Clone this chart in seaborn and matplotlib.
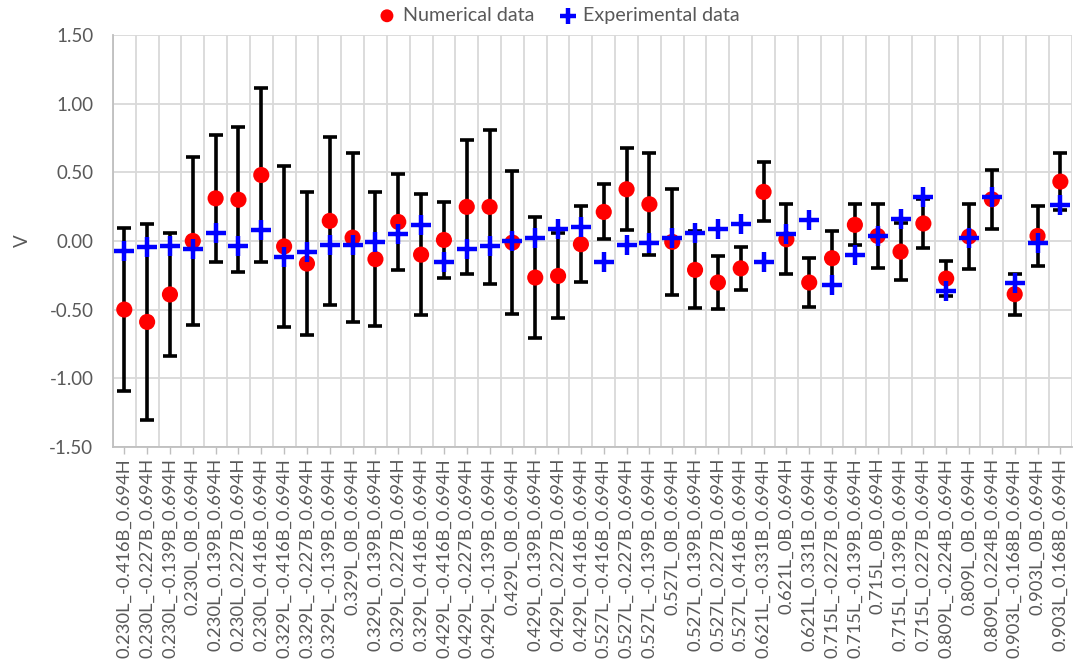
import numpy as np
import pandas as pd
import matplotlib
matplotlib.use("Agg")
import matplotlib.pyplot as plt
import seaborn as sns
from matplotlib.ticker import FixedLocator

categories = [
    "0.230L_-0.416B_0.694H", "0.230L_-0.227B_0.694H", "0.230L_-0.139B_0.694H",
    "0.230L_0B_0.694H", "0.230L_0.139B_0.694H", "0.230L_0.227B_0.694H",
    "0.230L_0.416B_0.694H", "0.329L_-0.416B_0.694H", "0.329L_-0.227B_0.694H",
    "0.329L_-0.139B_0.694H", "0.329L_0B_0.694H", "0.329L_0.139B_0.694H",
    "0.329L_0.227B_0.694H", "0.329L_0.416B_0.694H", "0.429L_-0.416B_0.694H",
    "0.429L_-0.227B_0.694H", "0.429L_-0.139B_0.694H", "0.429L_0B_0.694H",
    "0.429L_0.139B_0.694H", "0.429L_0.227B_0.694H", "0.429L_0.416B_0.694H",
    "0.527L_-0.416B_0.694H", "0.527L_-0.227B_0.694H", "0.527L_-0.139B_0.694H",
    "0.527L_0B_0.694H", "0.527L_0.139B_0.694H", "0.527L_0.227B_0.694H",
    "0.527L_0.416B_0.694H", "0.621L_-0.331B_0.694H", "0.621L_0B_0.694H",
    "0.621L_0.331B_0.694H", "0.715L_-0.227B_0.694H", "0.715L_-0.139B_0.694H",
    "0.715L_0B_0.694H", "0.715L_0.139B_0.694H", "0.715L_0.227B_0.694H",
    "0.809L_-0.224B_0.694H", "0.809L_0B_0.694H", "0.809L_0.224B_0.694H",
    "0.903L_-0.168B_0.694H", "0.903L_0B_0.694H", "0.903L_0.168B_0.694H",
]

numerical = [
    -0.50, -0.59, -0.39, 0.00, 0.31, 0.30, 0.48, -0.04, -0.165, 0.146,
    0.024, -0.133, 0.138, -0.10, 0.007, 0.248, 0.248, -0.012, -0.267, -0.255,
    -0.024, 0.211, 0.376, 0.267, -0.007, -0.211, -0.303, -0.20, 0.357, 0.012,
    -0.303, -0.126, 0.117, 0.036, -0.078, 0.127, -0.274, 0.032, 0.303, -0.388,
    0.036, 0.432,
]

numerical_err = [
    0.595, 0.715, 0.445, 0.61, 0.46, 0.53, 0.63, 0.585, 0.52, 0.61,
    0.615, 0.49, 0.35, 0.44, 0.28, 0.49, 0.56, 0.52, 0.44, 0.31,
    0.275, 0.20, 0.30, 0.37, 0.385, 0.28, 0.19, 0.155, 0.215, 0.255,
    0.18, 0.195, 0.15, 0.235, 0.205, 0.18, 0.125, 0.235, 0.215, 0.15,
    0.22, 0.205,
]

experimental = [
    -0.073, -0.046, -0.036, -0.061, 0.056, -0.036, 0.078, -0.114, -0.078, -0.029,
    -0.029, -0.007, 0.049, 0.114, -0.153, -0.061, -0.036, 0.0, 0.019, 0.085,
    0.104, -0.15, -0.029, -0.012, 0.019, 0.056, 0.085, 0.121, -0.153, 0.049,
    0.15, -0.32, -0.10, 0.036, 0.163, 0.32, -0.364, 0.024, 0.32, -0.303,
    -0.012, 0.26,
]

y_ticks = [-1.5, -1.0, -0.5, 0.0, 0.5, 1.0, 1.5]

df = pd.DataFrame({
    "case": categories,
    "Numerical data": numerical,
    "err": numerical_err,
    "Experimental data": experimental,
})

sns.set_theme(style="white")
plt.rcParams["font.family"] = ["Lato", "DejaVu Sans"]

fig = plt.figure(figsize=(10.75, 6.72), dpi=100)
ax = fig.add_axes([0.105, 0.335, 0.892, 0.613])

grey_text = "#595959"
grid_c = "#d9d9d9"

ax.errorbar(df["case"], df["Numerical data"], yerr=df["err"], fmt="none",
            ecolor="black", elinewidth=2.6, capsize=5, capthick=2.6, zorder=3)
sns.scatterplot(data=df, x="case", y="Numerical data", ax=ax, color="#ff0000",
                marker="o", s=135, edgecolor="none", zorder=4,
                label="Numerical data")
sns.scatterplot(data=df, x="case", y="Experimental data", ax=ax, color="#0000ff",
                marker="+", s=200, linewidth=3.2, zorder=5,
                label="Experimental data")

ax.set_xlim(-0.5, len(categories) - 0.5)
ax.set_ylim(-1.5, 1.5)
ax.set_yticks(y_ticks)
ax.set_yticklabels([f"{v:.2f}" for v in y_ticks])
ax.set_xticks(range(len(categories)))
ax.set_xticklabels(categories, rotation=90)
ax.xaxis.set_minor_locator(FixedLocator(np.arange(-0.5, len(categories), 1.0)))

ax.grid(True, which="major", axis="y", color=grid_c, linewidth=1.3)
ax.grid(True, which="minor", axis="x", color=grid_c, linewidth=1.3)
ax.grid(False, which="major", axis="x")
ax.set_axisbelow(True)

ax.tick_params(axis="x", which="major", bottom=True, length=5, width=1,
               color="#bfbfbf", labelsize=13.2, labelcolor=grey_text, pad=3)
ax.tick_params(axis="x", which="minor", bottom=False, length=0)
ax.tick_params(axis="y", left=False, labelsize=13.5, labelcolor=grey_text, pad=8)

for side in ["top", "right"]:
    ax.spines[side].set_visible(False)
for side in ["left", "bottom"]:
    ax.spines[side].set_color("#bfbfbf")
    ax.spines[side].set_linewidth(1.3)

ax.set_xlabel("")
ax.set_ylabel("V", color=grey_text, fontsize=13.5)
ax.yaxis.set_label_coords(-0.085, 0.5)

handles, labels = ax.get_legend_handles_labels()
ax.get_legend().remove()
fig.legend(handles=handles, labels=labels,
           loc="center", bbox_to_anchor=(0.515, 0.977), ncol=2,
           frameon=False, fontsize=14.2, labelcolor=grey_text,
           handletextpad=-0.2, columnspacing=0.7, markerscale=0.8)

fig.savefig("out.png", dpi=100)
